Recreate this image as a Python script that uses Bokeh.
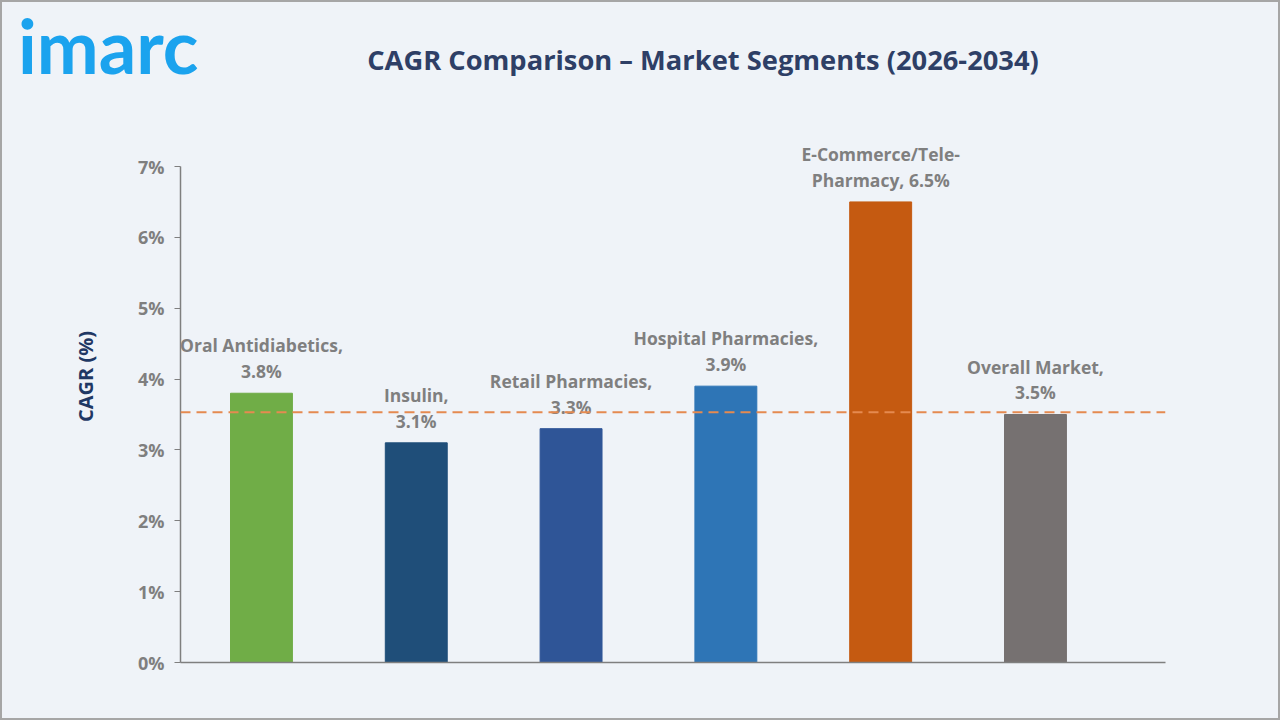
from bokeh.plotting import figure
from bokeh.layouts import column
from bokeh.models import ColumnDataSource, Span, Div, FixedTicker, CustomJSTickFormatter
from bokeh.core.properties import value
from bokeh.embed import file_html
from bokeh.resources import INLINE

# Segment CAGR values (%) for 2026-2034
segments = ["Oral Antidiabetics", "Insulin", "Retail Pharmacies",
            "Hospital Pharmacies", "E-Commerce/Tele-Pharmacy", "Overall Market"]
label_texts = ["Oral Antidiabetics,\n3.8%", "Insulin,\n3.1%", "Retail Pharmacies,\n3.3%",
               "Hospital Pharmacies,\n3.9%", "E-Commerce/Tele-\nPharmacy, 6.5%", "Overall Market,\n3.5%"]
cagr = [3.8, 3.1, 3.3, 3.9, 6.5, 3.5]
colors = ["#70AD47", "#1F4E79", "#2F5597", "#2E75B6", "#C55A11", "#767171"]
overall_line = 3.53
y_ticks = [0, 1, 2, 3, 4, 5, 6, 7]

BG = "#EFF3F8"
FONT = "Open Sans"
TITLE = "CAGR Comparison \u2013 Market Segments (2026-2034)"

src = ColumnDataSource(dict(
    x=list(range(len(segments))),
    top=cagr,
    color=colors,
    label=label_texts,
))

# header strip with the brand mark and the chart title
header = Div(
    width=1276, height=88, margin=0,
    styles={"background-color": BG},
    text=(
        f'<div style="position:relative;width:1276px;height:88px;">'
        f'<span style="position:absolute;left:16px;top:7px;font-family:Lato;'
        f'font-weight:bold;font-size:74px;line-height:1;color:#1BA3EE;">imarc</span>'
        f'<span style="position:absolute;left:0;top:0;width:1402px;text-align:center;'
        f'font-family:\'{FONT}\';font-weight:bold;font-size:27.3px;line-height:116px;'
        f'color:#2E3F66;">{TITLE}</span>'
        f'</div>'
    ),
)

p = figure(width=1276, height=628, output_backend="svg", toolbar_location=None,
           x_range=(-0.523, 5.84), y_range=(0, 8.0726),
           min_border_left=178, min_border_right=113, min_border_top=0,
           min_border_bottom=56, margin=0)
p.background_fill_color = BG
p.border_fill_color = BG
p.outline_line_color = None
p.grid.visible = False

p.vbar(x="x", top="top", bottom=0, width=0.4, color="color", source=src)

# reference line at the overall market growth rate
p.add_layout(Span(location=overall_line, dimension="width",
                  line_color="#E58A50", line_width=2, line_dash="10 6"))

p.text(x="x", y="top", text="label", source=src, text_align="center",
       text_baseline="bottom", y_offset=-10, text_font=value(FONT),
       text_font_style="bold", text_font_size="17.5px", text_color="#7F7F7F",
       text_line_height=1.08)

# x axis: plain baseline only
xa = p.xaxis[0]
xa.ticker = FixedTicker(ticks=[])
xa.major_tick_line_color = None
xa.minor_tick_line_color = None
xa.axis_line_color = "#7F7F7F"
xa.axis_line_width = 1.5

ya = p.yaxis[0]
ya.bounds = (0, 7)
ya.ticker = FixedTicker(ticks=y_ticks)
ya.formatter = CustomJSTickFormatter(code="return tick + '%';")
ya.minor_tick_line_color = None
ya.major_tick_out = 6
ya.major_tick_in = 0
ya.major_tick_line_color = "#7F7F7F"
ya.axis_line_color = "#7F7F7F"
ya.axis_line_width = 1.5
ya.major_label_text_font = FONT
ya.major_label_text_font_style = "bold"
ya.major_label_text_font_size = "18px"
ya.major_label_text_color = "#7F7F7F"
ya.major_label_standoff = 10
ya.axis_label = "CAGR (%)"
ya.axis_label_text_font = FONT
ya.axis_label_text_font_style = "bold"
ya.axis_label_text_font_size = "20px"
ya.axis_label_text_color = "#1F3864"
ya.axis_label_standoff = 36

page = column(header, p, spacing=0, margin=0,
              styles={"border": "2px solid #A6A6A6", "background-color": BG})

open("out.html", "w").write(file_html(page, INLINE))
